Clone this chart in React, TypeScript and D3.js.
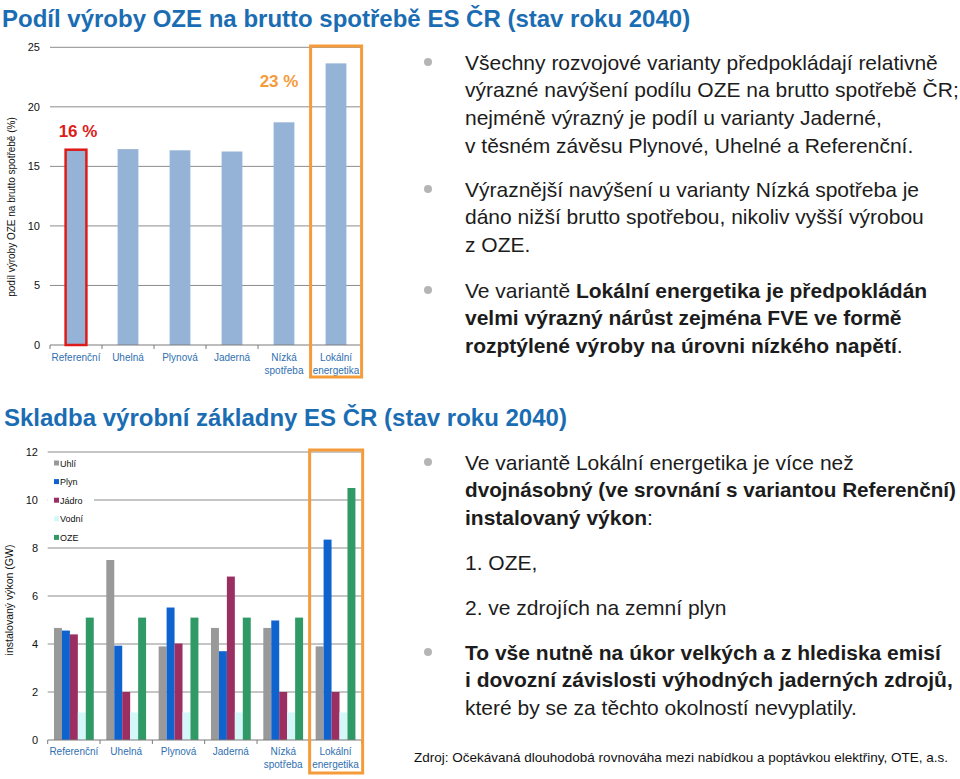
import React from "react";
import * as d3 from "d3";

const categories = ["Referenční", "Uhelná", "Plynová", "Jaderná", "Nízká spotřeba", "Lokální energetika"];
const ozeShare = [16.4, 16.45, 16.35, 16.25, 18.7, 23.65];
const topTicks = [0, 5, 10, 15, 20, 25];

const seriesNames = ["Uhlí", "Plyn", "Jádro", "Vodní", "OZE"];
const uhli = [4.67, 7.5, 3.9, 4.67, 4.67, 3.9];
const plyn = [4.56, 3.93, 5.52, 3.7, 4.98, 8.35];
const jadro = [4.4, 2.0, 4.02, 6.81, 2.0, 2.0];
const vodni = [1.15, 1.15, 1.15, 1.15, 1.15, 1.15];
const oze = [5.1, 5.1, 5.1, 5.1, 5.1, 10.5];
const bottomTicks = [0, 2, 4, 6, 8, 10, 12];

const seriesColors = ["#999999", "#0f63cf", "#9b2f62", "#d4f8fa", "#2f9a66"];

const FONT = "'Liberation Sans', Arial, sans-serif";
const TEXT = "#1c1c1c";
const LABEL_BLUE = "#2f6fb0";
const TITLE_BLUE = "#1b6db3";

type Seg = { t: string; b?: boolean };
type Line = { segs: Seg[]; fit?: number };

const topBullets: { y: number; lines: Line[] }[] = [
  {
    y: 62,
    lines: [
      { segs: [{ t: "Všechny rozvojové varianty předpokládají relativně" }] },
      { segs: [{ t: "výrazné navýšení podílu OZE na brutto spotřebě ČR;" }] },
      { segs: [{ t: "nejméně výrazný je podíl u varianty Jaderné," }] },
      { segs: [{ t: "v těsném závěsu Plynové, Uhelné a Referenční." }] },
    ],
  },
  {
    y: 189,
    lines: [
      { segs: [{ t: "Výraznější navýšení u varianty Nízká spotřeba je" }] },
      { segs: [{ t: "dáno nižší brutto spotřebou, nikoliv vyšší výrobou" }] },
      { segs: [{ t: "z OZE." }] },
    ],
  },
  {
    y: 290,
    lines: [
      { segs: [{ t: "Ve variantě " }, { t: "Lokální energetika je předpokládán", b: true }] },
      { segs: [{ t: "velmi výrazný nárůst zejména FVE ve formě", b: true }] },
      { segs: [{ t: "rozptýlené výroby na úrovni nízkého napětí", b: true }, { t: "." }] },
    ],
  },
];

const bottomBullets: { y: number; bullet: boolean; lines: Line[] }[] = [
  {
    y: 462,
    bullet: true,
    lines: [
      { segs: [{ t: "Ve variantě Lokální energetika je více než" }] },
      { segs: [{ t: "dvojnásobný (ve srovnání s variantou Referenční)", b: true }], fit: 491 },
      { segs: [{ t: "instalovaný výkon", b: true }, { t: ":" }] },
    ],
  },
  { y: 562, bullet: false, lines: [{ segs: [{ t: "1. OZE," }] }] },
  { y: 607, bullet: false, lines: [{ segs: [{ t: "2. ve zdrojích na zemní plyn" }] }] },
  {
    y: 652,
    bullet: true,
    lines: [
      { segs: [{ t: "To vše nutně na úkor velkých a z hlediska emisí", b: true }] },
      { segs: [{ t: "i dovozní závislosti výhodných jaderných zdrojů,", b: true }] },
      { segs: [{ t: "které by se za těchto okolností nevyplatily." }] },
    ],
  },
];

const LINE_H = 27.8;

function BulletBlock({ y, lines, bullet }: { y: number; lines: Line[]; bullet: boolean }) {
  return (
    <g>
      {bullet && <circle cx={428} cy={y} r={4} fill="#b5b5b5" />}
      {lines.map((ln, i) => (
        <text
          key={i}
          x={465}
          y={y + i * LINE_H + 7.5}
          fontSize={21}
          fill={TEXT}
          fontFamily={FONT}
          textLength={ln.fit}
          lengthAdjust={ln.fit ? "spacingAndGlyphs" : undefined}
        >
          {ln.segs.map((s, j) => (
            <tspan key={j} fontWeight={s.b ? "bold" : "normal"}>
              {s.t}
            </tspan>
          ))}
        </text>
      ))}
    </g>
  );
}

function CatLabel({ x, y, label }: { x: number; y: number; label: string }) {
  const parts = label.split(" ");
  return (
    <text x={x} y={y} textAnchor="middle" fontSize={10} fill={LABEL_BLUE} fontFamily={FONT}>
      {parts.map((p, i) => (
        <tspan key={i} x={x} dy={i === 0 ? 0 : 13}>
          {p}
        </tspan>
      ))}
    </text>
  );
}

export default function App() {
  // ---- Top chart ----
  const tx = d3.scaleBand<string>().domain(categories).range([50, 362]).paddingInner(0.6).paddingOuter(0.3);
  const ty = d3.scaleLinear().domain([0, 25]).range([345, 47.3]);
  const tStep = tx.step();
  const tBoundaries = d3.range(categories.length + 1).map((i) => 50 + i * tStep);

  // ---- Bottom chart ----
  const bx = d3.scaleBand<string>().domain(categories).range([47.7, 361.7]).paddingInner(0.24).paddingOuter(0.12);
  const bInner = d3.scaleBand<string>().domain(seriesNames).range([0, bx.bandwidth()]).padding(0);
  const by = d3.scaleLinear().domain([0, 12]).range([740, 452]);
  const bStep = bx.step();
  const bBoundaries = d3.range(categories.length + 1).map((i) => 47.7 + i * bStep);
  const seriesData = [uhli, plyn, jadro, vodni, oze];

  const refX = tx(categories[0])!;
  const lokTop = tx(categories[5])!;
  const lokBot = bx(categories[5])!;

  return (
    <div style={{ position: "absolute", left: 0, top: 0 }}>
      <svg width={960} height={779} style={{ display: "block", background: "#fff" }}>
        {/* Titles */}
        <text x={2} y={27} fontSize={24} fontWeight="bold" fill={TITLE_BLUE} fontFamily={FONT}>
          Podíl výroby OZE na brutto spotřebě ES ČR (stav roku 2040)
        </text>
        <text x={4} y={426} fontSize={24} fontWeight="bold" fill={TITLE_BLUE} fontFamily={FONT}>
          Skladba výrobní základny ES ČR (stav roku 2040)
        </text>

        {/* ---- Top chart ---- */}
        {topTicks.map((t) => (
          <g key={t}>
            {t > 0 && <line x1={50} x2={362} y1={ty(t)} y2={ty(t)} stroke="#8c8c8c" strokeWidth={1} />}
            <text x={40} y={ty(t) + 4} textAnchor="end" fontSize={11} fill="#111" fontFamily={FONT}>
              {t}
            </text>
          </g>
        ))}
        {categories.map((c, i) => (
          <rect key={c} x={tx(c)} y={ty(ozeShare[i])} width={tx.bandwidth()} height={ty(0) - ty(ozeShare[i])} fill="#95b3d7" />
        ))}
        <line x1={50} x2={362} y1={345} y2={345} stroke="#7a7a7a" strokeWidth={1} />
        {tBoundaries.map((b, i) => (
          <line key={i} x1={b} x2={b} y1={345} y2={349} stroke="#7a7a7a" strokeWidth={1} />
        ))}
        {categories.map((c) => (
          <CatLabel key={c} x={tx(c)! + tx.bandwidth() / 2} y={361} label={c} />
        ))}
        <text
          transform={`translate(15,${207}) rotate(-90)`}
          textAnchor="middle"
          fontSize={10}
          fill="#111"
          fontFamily={FONT}
        >
          podíl výroby OZE na brutto spotřebě (%)
        </text>
        {/* Red highlight */}
        <rect x={refX} y={ty(ozeShare[0])} width={tx.bandwidth()} height={ty(0) - ty(ozeShare[0])} fill="none" stroke="#dd1c1a" strokeWidth={2.5} />
        <text x={refX + tx.bandwidth() / 2 + 2} y={137} textAnchor="middle" fontSize={17} fontWeight="bold" fill="#dd1c1a" fontFamily={FONT}>
          16 %
        </text>
        {/* Orange highlight */}
        <rect x={lokTop - 15} y={46} width={51} height={331} fill="none" stroke="#f59b3a" strokeWidth={3} />
        <text x={279} y={87} textAnchor="middle" fontSize={17} fontWeight="bold" fill="#f59b3a" fontFamily={FONT}>
          23 %
        </text>

        {/* ---- Bottom chart ---- */}
        {bottomTicks.map((t) => (
          <g key={t}>
            {t > 0 && <line x1={47.7} x2={361.7} y1={by(t)} y2={by(t)} stroke="#8c8c8c" strokeWidth={1} />}
            <text x={38} y={by(t) + 4} textAnchor="end" fontSize={11} fill="#111" fontFamily={FONT}>
              {t}
            </text>
          </g>
        ))}
        {categories.map((c, i) => (
          <g key={c} transform={`translate(${bx(c)},0)`}>
            {seriesNames.map((s, k) => (
              <rect
                key={s}
                x={bInner(s)}
                y={by(seriesData[k][i])}
                width={bInner.bandwidth()}
                height={by(0) - by(seriesData[k][i])}
                fill={seriesColors[k]}
              />
            ))}
          </g>
        ))}
        <line x1={47.7} x2={361.7} y1={740} y2={740} stroke="#7a7a7a" strokeWidth={1} />
        {bBoundaries.map((b, i) => (
          <line key={i} x1={b} x2={b} y1={740} y2={744} stroke="#7a7a7a" strokeWidth={1} />
        ))}
        {categories.map((c) => (
          <CatLabel key={c} x={bx(c)! + bx.bandwidth() / 2} y={755} label={c} />
        ))}
        <text
          transform={`translate(13,${600}) rotate(-90)`}
          textAnchor="middle"
          fontSize={10.5}
          fill="#111"
          fontFamily={FONT}
        >
          instalovaný výkon (GW)
        </text>
        {/* Legend */}
        <rect x={48} y={455} width={46} height={88} fill="#fff" />
        {seriesNames.map((s, k) => (
          <g key={s}>
            <rect x={54} y={460.5 + k * 18.6} width={5} height={5} fill={seriesColors[k]} />
            <text x={60} y={466.5 + k * 18.6} fontSize={9} fill="#111" fontFamily={FONT}>
              {s}
            </text>
          </g>
        ))}
        {/* Orange highlight bottom */}
        <rect x={lokBot - 6} y={450} width={53} height={323} fill="none" stroke="#f59b3a" strokeWidth={3} />

        {/* ---- Right text ---- */}
        {topBullets.map((b, i) => (
          <BulletBlock key={i} y={b.y} lines={b.lines} bullet={true} />
        ))}
        {bottomBullets.map((b, i) => (
          <BulletBlock key={i} y={b.y} lines={b.lines} bullet={b.bullet} />
        ))}
        <text x={414} y={762} fontSize={13.5} fill="#111" fontFamily={FONT}>
          Zdroj: Očekávaná dlouhodobá rovnováha mezi nabídkou a poptávkou elektřiny, OTE, a.s.
        </text>
      </svg>
    </div>
  );
}
